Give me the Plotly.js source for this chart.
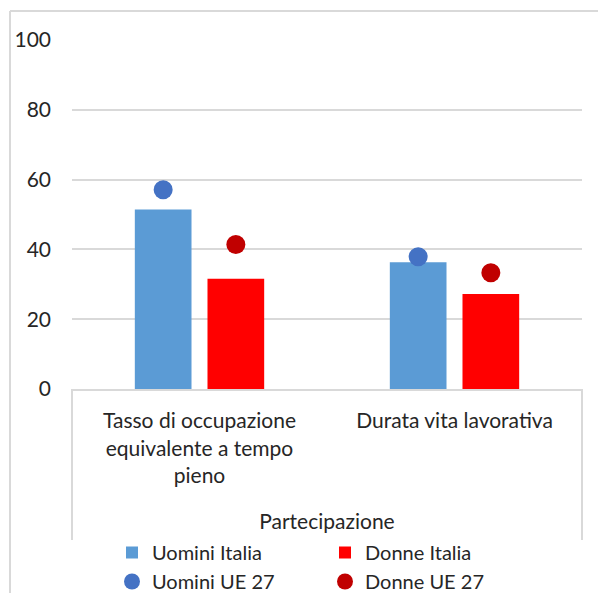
<!DOCTYPE html>
<html>
<head>
<meta charset="utf-8">
<script src="https://cdn.plot.ly/plotly-3.0.1.min.js"></script>
<style>html,body{margin:0;padding:0;background:#fff;}#chart{width:598px;height:593px;}</style>
</head>
<body>
<div id="chart"></div>
<script>
const categories = ["Tasso di occupazione<br>equivalente a tempo<br>pieno", "Durata vita lavorativa"];
const groupTitle = "Partecipazione";
const uominiItalia = [51.4, 36.3];
const donneItalia = [31.6, 27.2];
const uominiUE = [57.1, 37.9];
const donneUE = [41.4, 33.3];
const yTicks = [0, 20, 40, 60, 80, 100];

const FONT = "Lato, 'Liberation Sans', sans-serif";
const TXT = "#262626";

const traces = [
  {type: "bar", name: "Uomini Italia", x: categories, y: uominiItalia,
   marker: {color: "#5B9BD5"}, offsetgroup: "a", alignmentgroup: "g"},
  {type: "bar", name: "Donne Italia", x: categories, y: donneItalia,
   marker: {color: "#FF0000"}, offsetgroup: "b", alignmentgroup: "g"},
  {type: "scatter", mode: "markers", name: "Uomini UE 27", x: categories, y: uominiUE,
   marker: {color: "#4472C4", size: 19}, offsetgroup: "a", alignmentgroup: "g"},
  {type: "scatter", mode: "markers", name: "Donne UE 27", x: categories, y: donneUE,
   marker: {color: "#C00000", size: 19}, offsetgroup: "b", alignmentgroup: "g"}
];

const L = 72, R = 582, T = 40, B = 389, W = 598, H = 593;
const pw = R - L, ph = B - T;
const px = v => (v - L) / pw;
const py = v => (B - v) / ph;
const grey = "#D9D9D9";

const layout = {
  width: W, height: H,
  margin: {l: L, r: W - R, t: T, b: H - B, pad: 0},
  paper_bgcolor: "#fff", plot_bgcolor: "#fff",
  font: {family: FONT, size: 21, color: TXT},
  barmode: "group", bargap: 0.43, bargroupgap: 0.22,
  scattermode: "group", scattergap: 0.43,
  showlegend: true,
  legend: {orientation: "h", xref: "container", yref: "container",
           x: 112 / W, xanchor: "left",
           y: (H - 533) / H, yanchor: "top", entrywidth: 168, traceorder: "normal",
           font: {family: FONT, size: 20, color: TXT}, itemwidth: 30,
           bgcolor: "rgba(0,0,0,0)", tracegroupgap: 0},
  xaxis: {type: "category", showline: true, linecolor: grey, linewidth: 2,
          ticks: "", ticklabelstandoff: 12,
          tickfont: {family: FONT, size: 21, color: TXT},
          title: {text: groupTitle, standoff: 32, font: {family: FONT, size: 21, color: TXT}},
          automargin: false, fixedrange: true},
  yaxis: {range: [0, 100], tickvals: yTicks, ticktext: yTicks.map(String),
          showgrid: true, gridcolor: grey, gridwidth: 2, zeroline: false,
          showline: false, ticks: "", ticklabelstandoff: 20,
          tickfont: {family: FONT, size: 21, color: TXT},
          automargin: false, fixedrange: true},
  shapes: [
    {type: "line", xref: "paper", yref: "paper", x0: px(10), x1: px(10), y0: py(11), y1: py(600), line: {color: grey, width: 2}},
    {type: "line", xref: "paper", yref: "paper", x0: px(10), x1: px(605), y0: py(11), y1: py(11), line: {color: grey, width: 2}},
    {type: "line", xref: "paper", yref: "paper", x0: 0, x1: 0, y0: 0, y1: py(540), line: {color: grey, width: 2}},
    {type: "line", xref: "paper", yref: "paper", x0: 1, x1: 1, y0: 0, y1: py(540), line: {color: grey, width: 2}}
  ]
};

Plotly.newPlot("chart", traces, layout, {displayModeBar: false, staticPlot: true});
</script>
</body>
</html>
